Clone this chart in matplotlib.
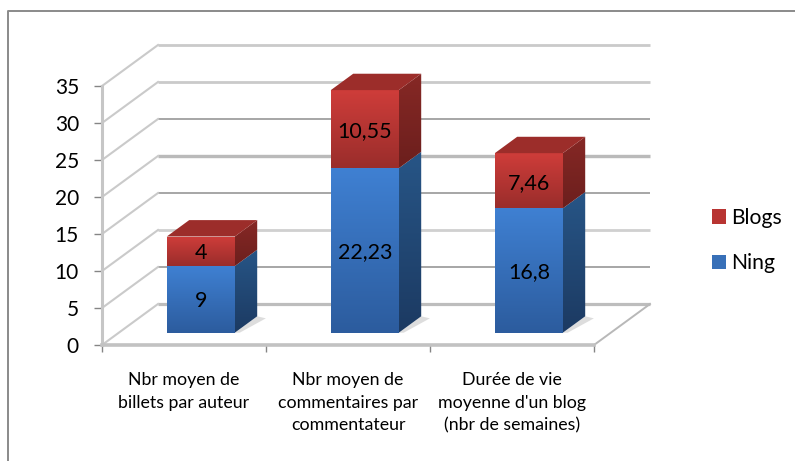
import numpy as np
import matplotlib
matplotlib.use("Agg")
import matplotlib.pyplot as plt
from matplotlib.colors import to_rgb
from matplotlib.patches import Polygon, Rectangle

categories = ["Nbr moyen de\nbillets par auteur",
              "Nbr moyen de\ncommentaires par\ncommentateur",
              "Durée de vie\nmoyenne d'un blog\n(nbr de semaines)"]
ning = [9, 22.23, 16.8]
blogs = [4, 10.55, 7.46]
y_ticks = [0, 5, 10, 15, 20, 25, 30, 35]

W, H = 795, 461
plt.rcParams["font.family"] = ["Lato", "DejaVu Sans"]
fig = plt.figure(figsize=(W / 100, H / 100), dpi=100)
ax = fig.add_axes([102 / W, (H - 345) / H, 492 / W, 259 / H])
ax.set_xlim(-0.5, 2.5)
ax.set_ylim(0, 35)

# depth of the 3D box, in data units
DX, DY = 56 / 164, 41 / 7.4
BAR_W = 68 / 164
D0, D1 = 0.30, 0.70


def P(x, y, d=0.0):
    return (x + DX * d, y + DY * d)


def gradient_poly(pts, top, bottom, z):
    pts = np.array(pts)
    x0, x1 = pts[:, 0].min(), pts[:, 0].max()
    y0, y1 = pts[:, 1].min(), pts[:, 1].max()
    t = np.linspace(0, 1, 64)[:, None, None]
    img = (1 - t) * np.array(to_rgb(top))[None, None, :] + t * np.array(to_rgb(bottom))[None, None, :]
    im = ax.imshow(img, extent=[x0, x1, y0, y1], origin="upper", aspect="auto",
                   interpolation="bilinear", zorder=z)
    poly = Polygon(pts, closed=True, transform=ax.transData)
    im.set_clip_path(poly)
    im.set_clip_box(fig.bbox)


# walls: gridlines on the back wall and diagonals on the side wall
grid_w = {0: 3.2, 5: 2.0, 10: 2.8, 15: 2.0, 20: 3.4, 25: 2.0, 30: 2.8, 35: 2.8}
grid_c = {0: "#bdbdbd", 5: "#a8a8a8", 10: "#d0d0d0", 15: "#a8a8a8", 20: "#bababa",
          25: "#a8a8a8", 30: "#cacaca", 35: "#cacaca"}
for v in y_ticks:
    a, b = P(-0.5, v, 1), P(2.5, v, 1)
    ax.plot([a[0], b[0]], [a[1], b[1]], color=grid_c[v], lw=grid_w[v] * 0.72,
            clip_on=False, zorder=1, solid_capstyle="butt")
    c = P(-0.5, v, 0)
    ax.plot([c[0], a[0]], [c[1], a[1]], color="#cacaca", lw=1.5, clip_on=False, zorder=1)
a, b = P(2.5, 0, 0), P(2.5, 0, 1)
ax.plot([a[0], b[0]], [a[1], b[1]], color="#b8b8b8", lw=1.4, clip_on=False, zorder=1)

# stacked 3D bars
for i, (n, bl) in enumerate(zip(ning, blogs)):
    xl, xr = i - BAR_W / 2, i + BAR_W / 2
    # soft floor shadow
    ax.add_patch(Polygon([P(xr, 0, D0), P(xr, 0, D1), P(xr + 0.07, 0, D1 - 0.05), P(xr + 0.03, 0, D0)],
                         closed=True, fc="#cfcfcf", ec="none", alpha=0.7, clip_on=False, zorder=2))
    # front faces
    gradient_poly([P(xl, 0, D0), P(xr, 0, D0), P(xr, n, D0), P(xl, n, D0)], "#3f80d2", "#2c5c9e", 3)
    gradient_poly([P(xl, n, D0), P(xr, n, D0), P(xr, n + bl, D0), P(xl, n + bl, D0)], "#cf3d3a", "#9a2d2b", 3)
    # side faces
    gradient_poly([P(xr, 0, D0), P(xr, 0, D1), P(xr, n, D1), P(xr, n, D0)], "#275586", "#1c3a62", 3)
    gradient_poly([P(xr, n, D0), P(xr, n, D1), P(xr, n + bl, D1), P(xr, n + bl, D0)], "#862825", "#6c1f1d", 3)
    # top face
    t = n + bl
    ax.add_patch(Polygon([P(xl, t, D0), P(xr, t, D0), P(xr, t, D1), P(xl, t, D1)], closed=True,
                         fc="#9c2d2a", ec="none", clip_on=False, zorder=3))
    # value labels
    for base, v in ((0, n), (n, bl)):
        px, py = P(i, base + v / 2, D0)
        ax.text(px, py, f"{v:g}".replace(".", ","), ha="center", va="center_baseline",
                fontsize=15.5, color="black", zorder=5)

# axes
for s in ("top", "right"):
    ax.spines[s].set_visible(False)
ax.patch.set_visible(False)
ax.spines["left"].set_color("#c6c6c6")
ax.spines["left"].set_linewidth(2.2)
ax.spines["bottom"].set_color("#c2c2c2")
ax.spines["bottom"].set_linewidth(2.6)
ax.set_yticks(y_ticks)
ax.set_xticks([-0.5, 0.5, 1.5, 2.5])
ax.set_xticklabels([])
ax.tick_params(axis="y", length=5.8, width=1, color="#858585", labelsize=15, pad=10.8, labelcolor="black")
ax.tick_params(axis="x", which="major", length=5, width=1, color="#858585")
ax.set_xticks([0, 1, 2], minor=True)
ax.set_xticklabels(categories, minor=True, fontsize=12.8, color="black", linespacing=1.5)
ax.tick_params(axis="x", which="minor", length=0, pad=19.5)

# legend
handles = [Rectangle((0, 0), 1, 1, fc="#b83432", ec="none"), Rectangle((0, 0), 1, 1, fc="#3870b8", ec="none")]
fig.legend(handles, ["Blogs", "Ning"], loc="upper left", bbox_to_anchor=(712 / W, 1 - 208 / H),
           frameon=False, fontsize=15.2, handlelength=0.66, handleheight=0.66, handletextpad=0.26,
           labelspacing=1.2, borderpad=0, borderaxespad=0)

# chart-area frame (left and top edges visible)
fig.add_artist(plt.Line2D([8 / W, 8 / W, 1], [0, 1 - 11 / H, 1 - 11 / H], color="#8a8a8a", lw=1.4,
                          transform=fig.transFigure))

ax.set_xlim(-0.5, 2.5)
ax.set_ylim(0, 35)
fig.savefig("out.png", dpi=100, facecolor="white")
